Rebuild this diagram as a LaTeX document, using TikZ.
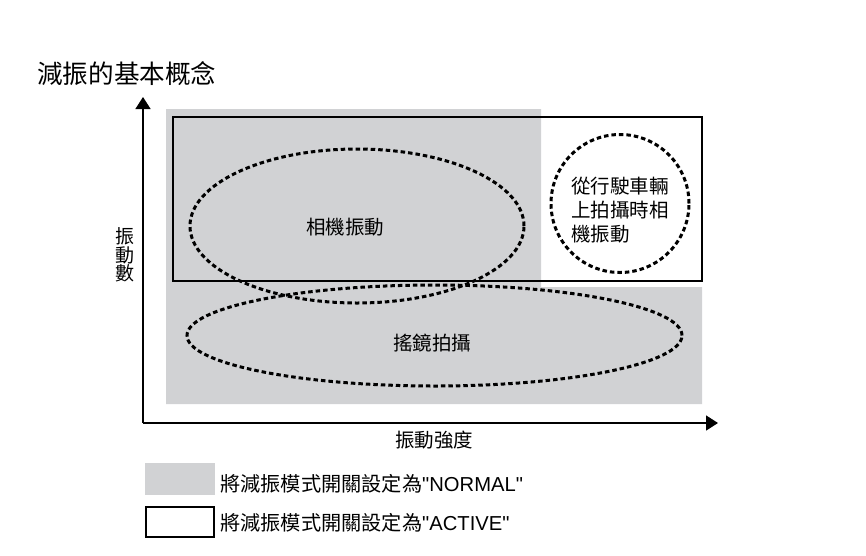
\documentclass[tikz,border=0pt]{standalone}
\usepackage{fontspec}
\setmainfont{Liberation Sans}[Ligatures=TeXOff]
\newfontfamily\cjk{Noto Sans CJK TC}
\usetikzlibrary{arrows.meta,shapes.geometric}
\definecolor{zonegray}{RGB}{209,210,212}
\tikzset{
  dotline/.style={line width=3pt,dash pattern=on 4.5pt off 3pt},
  axisline/.style={line width=1.4pt,-{Triangle[length=12pt,width=15pt]}},
  txt/.style={font=\cjk\fontsize{19.5}{24}\selectfont,inner sep=0pt},
  activebox/.style={draw,line width=2pt},
}
\begin{document}
\begin{tikzpicture}[x=1pt,y=-1pt]
\useasboundingbox (0,0) rectangle (866,555);
% gray NORMAL zone
\fill[zonegray] (166,109) -- (541,109) -- (541,287) -- (702,287) -- (702,404) -- (166,404) -- cycle;
% ACTIVE frame
\node[activebox,minimum width=529pt,minimum height=164pt,inner sep=0pt] (active) at (437.5,199) {};
% ellipses
\node[ellipse,dotline,draw,minimum width=334pt,minimum height=154pt,inner sep=0pt] (cam) at (357,226) {};
\node[ellipse,dotline,draw,minimum width=495pt,minimum height=101pt,inner sep=0pt] (pan) at (434.5,335.5) {};
\node[circle,dotline,draw,minimum size=138pt,inner sep=0pt] (veh) at (620,203.5) {};
\node[txt] (camt) at (345,227) {相機振動};
\node[txt] (pant) at (432,343) {搖鏡拍攝};
\node[txt,align=left,anchor=west] (veht) at (571,210) {從行駛車輛\\上拍攝時相\\機振動};
% axes
\coordinate (o) at (143,423);
\coordinate (ytip) at (143,97);
\coordinate (xtip) at (718,423);
\draw[axisline] (o) -- (ytip);
\draw[axisline] (o) -- (xtip);
\node[txt,align=center,font=\cjk\fontsize{19}{18.5}\selectfont] (ylab) at (125,255) {振\\動\\數};
\node[txt] (xlab) at (434,440) {振動強度};
% title
\node[inner sep=0pt,anchor=west,font=\cjk\fontsize{25.6}{30}\selectfont] (title) at (37,74) {減振的基本概念};
% legend
\node[fill=zonegray,minimum width=70pt,minimum height=32pt,inner sep=0pt] (leg1) at (180,479) {};
\node[activebox,minimum width=68pt,minimum height=30pt,inner sep=0pt] (leg2) at (180,522) {};
\node[txt,anchor=west,font=\fontsize{20.2}{24}\selectfont] (leg1t) at (220,484) {{\cjk 將減振模式開關設定為}"NORMAL"};
\node[txt,anchor=west,font=\fontsize{20.2}{24}\selectfont] (leg2t) at (220,523) {{\cjk 將減振模式開關設定為}"ACTIVE"};
\end{tikzpicture}
\end{document}
